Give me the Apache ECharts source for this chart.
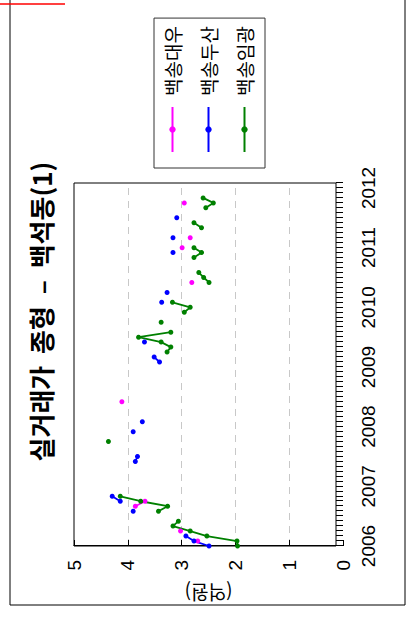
<!DOCTYPE html>
<html><head><meta charset="utf-8">
<script src="https://cdn.jsdelivr.net/npm/echarts@6/dist/echarts.min.js"></script>
<style>
html,body{margin:0;padding:0;background:#fff;overflow:hidden;width:408px;height:623px;}
#chart{position:absolute;left:0;top:0;width:623px;height:408px;transform-origin:0 0;transform:translate(0,623px) rotate(-90deg);}
</style></head><body><div id="chart"></div>
<script>
// ---- data ----
const years = ['2006','2007','2008','2009','2010','2011','2012'];
const lastMonth = '2012-02';
const priceTicks = [0, 1, 2, 3, 4, 5];
const titleText = '실거래가  종형  –  백석동(1)';
const yName = '(억원)';
const seriesNames = ['백송대우', '백송두산', '백송임광'];
const seriesColors = ['#ff00ff', '#0000ff', '#008000'];

const daewooMonths = ['2006-02','2006-04','2006-09','2006-10','2008-06','2010-06','2011-01','2011-03','2011-10'];
const daewooPrices = [2.70, 3.02, 3.86, 3.68, 4.11, 2.81, 2.99, 2.84, 2.95];

const doosanMonths = ['2006-01','2006-02','2006-03','2006-08','2006-10','2006-11','2007-06','2007-07','2007-12','2008-02',
                      '2009-02','2009-03','2009-06','2010-02','2010-04','2010-12','2011-03','2011-07'];
const doosanPrices = [2.49, 2.77, 2.92, 3.90, 4.14, 4.29, 3.86, 3.82, 3.90, 3.73,
                      3.41, 3.51, 3.69, 3.37, 3.27, 3.16, 3.16, 3.09];

const imkwangMonths = ['2006-01','2006-02','2006-03','2006-04','2006-05','2006-06','2006-08','2006-09','2006-10','2006-11',
                       '2007-10','2009-04','2009-05','2009-06','2009-07','2009-08','2009-10','2009-12','2010-01','2010-02',
                       '2010-06','2010-07','2010-08','2010-11','2010-12','2011-01','2011-05','2011-06','2011-09','2011-10','2011-11'];
const imkwangPrices = [1.96, 1.97, 2.53, 2.84, 3.16, 3.06, 3.43, 3.26, 3.76, 4.14,
                       4.36, 3.27, 3.20, 3.38, 3.80, 3.20, 3.38, 2.95, 2.84, 3.17,
                       2.49, 2.59, 2.68, 2.77, 2.63, 2.77, 2.63, 2.77, 2.55, 2.41, 2.60];

// ---- build month categories ----
const months = [];
outer: for (const y of years) {
  for (let m = 1; m <= 12; m++) {
    const key = y + '-' + (m < 10 ? '0' + m : '' + m);
    months.push(key);
    if (key === lastMonth) break outer;
  }
}
function fill(ms, ps) {
  const arr = months.map(() => '-');
  ms.forEach((m, i) => { const k = months.indexOf(m); if (k >= 0) arr[k] = ps[i]; });
  return arr;
}
const seriesData = [fill(daewooMonths, daewooPrices), fill(doosanMonths, doosanPrices), fill(imkwangMonths, imkwangPrices)];

const FONT = '"Liberation Sans", Arial, "Noto Sans CJK KR", sans-serif';
const KFONT = '"Noto Sans CJK KR", "Liberation Sans", sans-serif';

const chart = echarts.init(document.getElementById('chart'), null, {renderer: 'svg'});
chart.setOption({
  animation: false,
  backgroundColor: '#fff',
  title: {
    text: titleText, left: 'center', top: 22,
    textStyle: {fontSize: 26, fontWeight: 'bold', color: '#000', fontFamily: KFONT}
  },
  legend: {
    data: seriesNames, orient: 'vertical', left: 455, top: 154,
    padding: [9, 8, 11, 15], itemGap: 17, itemWidth: 45, itemHeight: 8,
    borderColor: '#333', borderWidth: 1,
    textStyle: {fontSize: 19, color: '#000', fontFamily: KFONT, padding: [0, 0, 0, 6]}
  },
  grid: [
    {left: 77, top: 74, width: 363, height: 269, show: false},
    {left: 77, top: 74, width: 363, height: 262, show: true, borderColor: '#000', borderWidth: 1, backgroundColor: 'transparent'}
  ],
  xAxis: [
    {
      type: 'category', data: months, boundaryGap: false, gridIndex: 0,
      axisLine: {show: false},
      axisTick: {show: true, inside: true, length: 7, interval: 0, lineStyle: {color: '#000', width: 1}},
      axisLabel: {interval: (i) => i % 12 === 0, formatter: (v) => v.slice(0, 4), color: '#000', fontSize: 19, margin: 16, fontFamily: FONT},
      splitLine: {show: false}
    },
    {type: 'value', gridIndex: 1, show: false, min: 0, max: 1}
  ],
  yAxis: [
    {
      type: 'value', gridIndex: 0, min: priceTicks[0], max: priceTicks[priceTicks.length - 1], interval: 1,
      axisLine: {show: true, lineStyle: {color: '#000', width: 1}},
      axisTick: {show: true, inside: true, length: 6, lineStyle: {color: '#000'}},
      axisLabel: {color: '#000', fontSize: 19, margin: 14, fontFamily: FONT},
      splitLine: {show: true, showMinLine: false, showMaxLine: false, lineStyle: {color: '#c8c8c8', type: [7, 6], width: 1}},
      name: yName, nameLocation: 'middle', nameRotate: 90, nameGap: 38,
      nameTextStyle: {fontSize: 19, color: '#000', fontFamily: KFONT}
    },
    {type: 'value', gridIndex: 1, show: false, min: 0, max: 1}
  ],
  series: seriesNames.map((n, i) => ({
    name: n, type: 'line', xAxisIndex: 0, yAxisIndex: 0,
    data: seriesData[i], connectNulls: false,
    symbol: 'circle', symbolSize: 5, showSymbol: true, showAllSymbol: true,
    itemStyle: {color: seriesColors[i]},
    lineStyle: {color: seriesColors[i], width: 1.8},
    emphasis: {disabled: true}
  })),
  graphic: [
    {type: 'rect', shape: {x: 18, y: 10, width: 640, height: 395}, style: {fill: 'none', stroke: '#000', lineWidth: 1}, silent: true},
    {type: 'line', shape: {x1: 619, y1: 0, x2: 619, y2: 65}, style: {stroke: '#ff0000', lineWidth: 1.5}, silent: true}
  ]
});
</script></body></html>
